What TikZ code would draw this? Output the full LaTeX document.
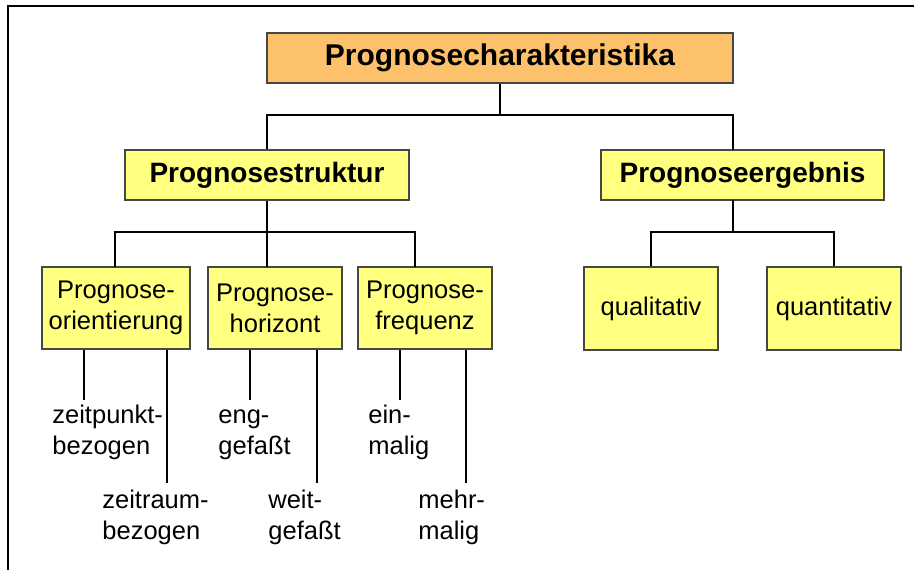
\documentclass[tikz,border=0pt]{standalone}
\usepackage{fontspec}
\setmainfont{Liberation Sans}
\definecolor{boxorange}{RGB}{253,193,108}
\definecolor{boxyellow}{RGB}{255,255,128}
\definecolor{boxline}{RGB}{70,70,70}
\begin{document}
\begin{tikzpicture}[x=0.5pt,y=-0.5pt,
  box/.style={draw=boxline, line width=0.6pt, inner sep=0pt, align=center},
  rootbox/.style={box, fill=boxorange, minimum width=233pt, minimum height=25pt,
    font=\fontsize{15}{18}\selectfont\bfseries},
  midbox/.style={box, fill=boxyellow, minimum height=25pt,
    font=\fontsize{14}{17}\selectfont\bfseries},
  leafbox/.style={box, fill=boxyellow, minimum width=67pt, minimum height=41pt,
    font=\fontsize{12.75}{15.5}\selectfont},
  leaftext/.style={inner sep=0pt, align=left, anchor=base west,
    font=\fontsize{12.75}{15.5}\selectfont},
  conn/.style={line width=1pt, black},
]
\useasboundingbox (0,0) rectangle (914,569);

% partial frame
\draw[line width=0.75pt] (8,580) -- (8,6) -- (920,6);

% boxes
\node[rootbox] (root) at (500,58) {Prognosecharakteristika};
\node[midbox, minimum width=142pt] (struk) at (267,175) {Prognosestruktur};
\node[midbox, minimum width=141.5pt] (ergeb) at (742.5,175) {Prognoseergebnis};

\node[leafbox, minimum width=74pt] (orient) at (116,308) {\rule{0pt}{4pt}Prognose-\\orientierung};
\node[leafbox] (horiz) at (275,308) {\rule{0pt}{4pt}Prognose-\\horizont};
\node[leafbox] (freq) at (425,308) {\rule{0pt}{4pt}Prognose-\\frequenz};
\node[leafbox, minimum height=41.5pt] (qual) at (651,308.5) {qualitativ};
\node[leafbox, minimum height=41.5pt] (quant) at (834,308.5) {quantitativ};

% junction points
\coordinate (j0) at (500,115);
\coordinate (j1) at (267,232);
\coordinate (j2) at (733,232);
\coordinate (ergin) at (733,150);
\coordinate (ergout) at (733,200);
\coordinate (orin) at (115,267);
\coordinate (hoin) at (267,267);
\coordinate (frin) at (415,267);

% tree connectors
\draw[conn] (root.south) -- (j0);
\draw[conn] (struk.north) |- (j0) -| (ergin);
\draw[conn] (struk.south) -- (j1);
\draw[conn] (orin) |- (j1) -| (frin);
\draw[conn] (j1) -- (hoin);
\draw[conn] (ergout) -- (j2);
\draw[conn] (qual.north) |- (j2) -| (quant.north);

% leaf labels (anchored at the baseline of their last line)
\node[leaftext] (zp) at (52,454) {zeitpunkt-\\bezogen};
\node[leaftext] (zr) at (102,539) {zeitraum-\\bezogen};
\node[leaftext] (eg) at (218,454) {eng-\\gefaßt};
\node[leaftext] (wg) at (268,539) {weit-\\gefaßt};
\node[leaftext] (em) at (368,454) {ein-\\malig};
\node[leaftext] (mm) at (418,539) {mehr-\\malig};

% leaf line ends
\coordinate (e1) at (84,400);
\coordinate (e2) at (167,483);
\coordinate (e3) at (250,400);
\coordinate (e4) at (317,483);
\coordinate (e5) at (400,400);
\coordinate (e6) at (466,483);

\draw[conn] (orient.south -| e1) -- (e1);
\draw[conn] (orient.south -| e2) -- (e2);
\draw[conn] (horiz.south -| e3) -- (e3);
\draw[conn] (horiz.south -| e4) -- (e4);
\draw[conn] (freq.south -| e5) -- (e5);
\draw[conn] (freq.south -| e6) -- (e6);
\end{tikzpicture}
\end{document}
